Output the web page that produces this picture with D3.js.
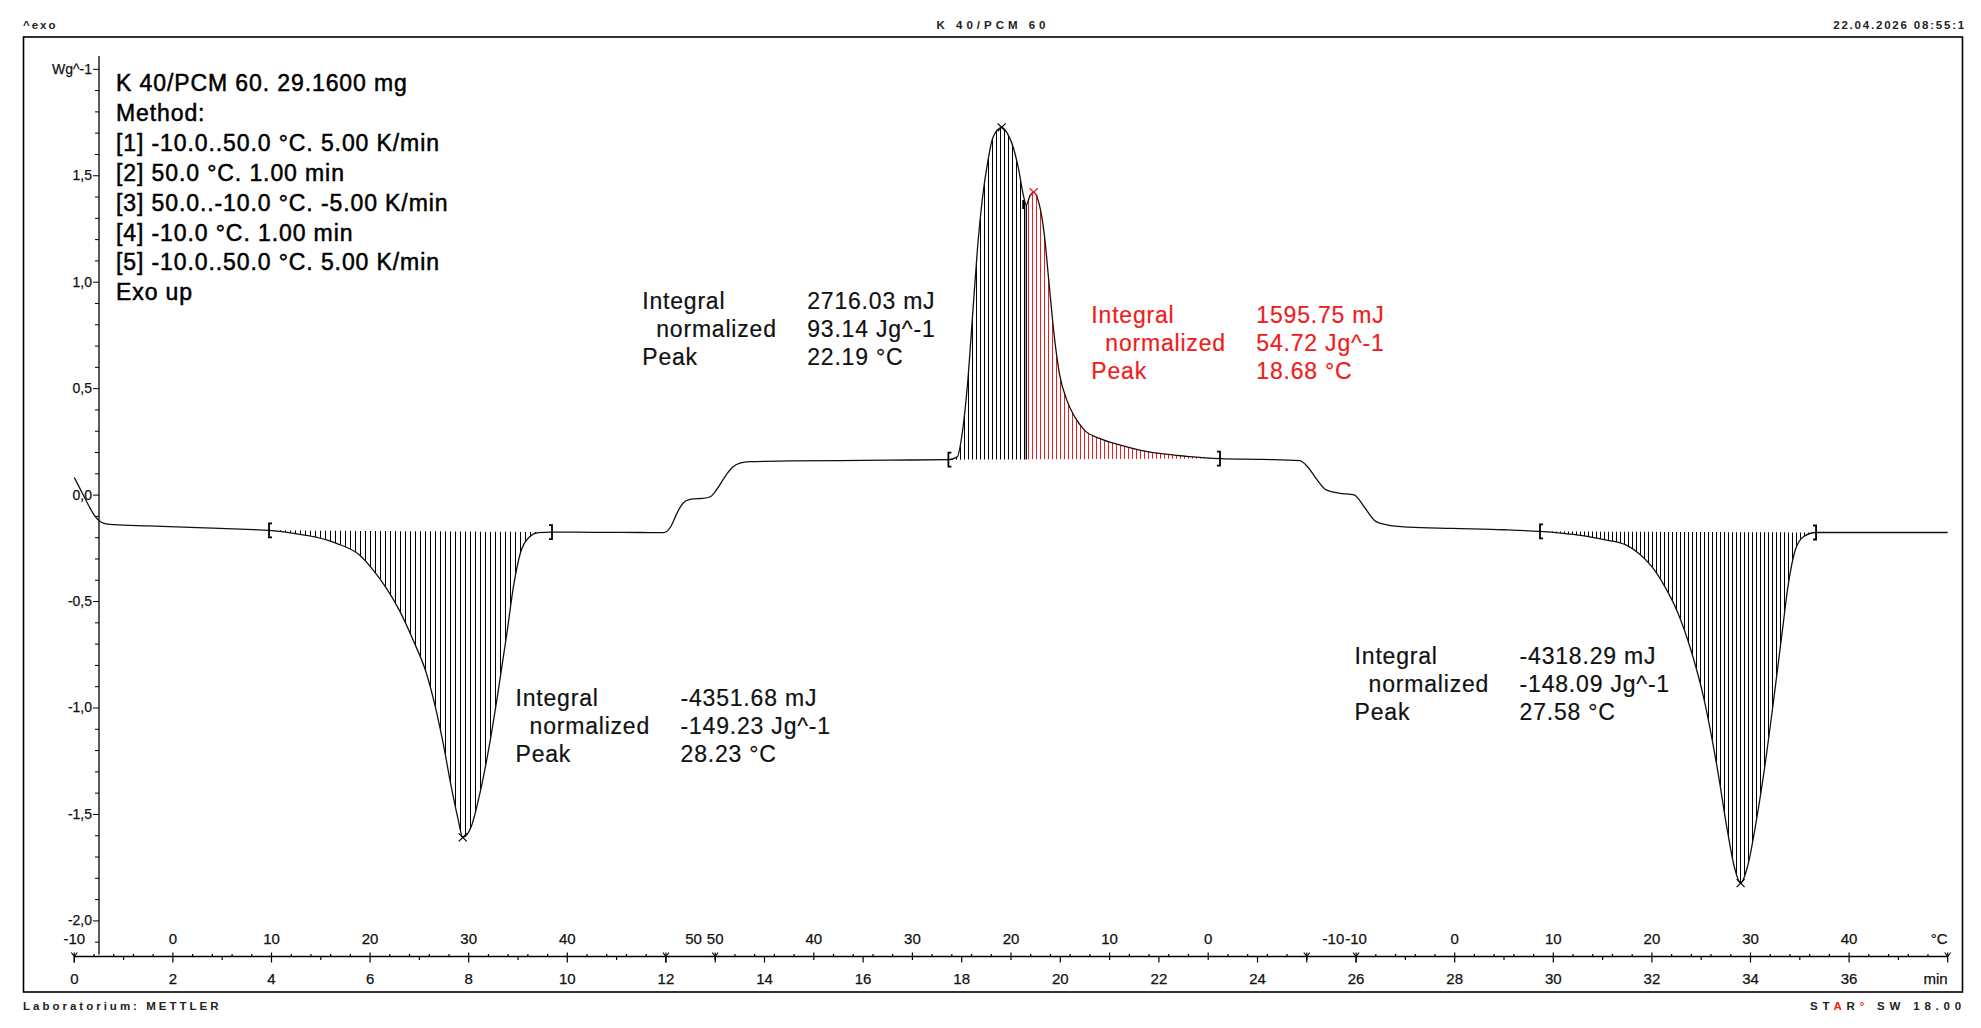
<!DOCTYPE html>
<html>
<head>
<meta charset="utf-8">
<script src="https://cdn.jsdelivr.net/npm/d3@7"></script>
<style>
  body { margin: 0; background: #fff; }
  text { font-family: "Liberation Sans", Arial, sans-serif; }
</style>
</head>
<body>
<div id="chart"></div>
<script>
// DSC curve: time in min, heat flow in W/g
var timeMin = [
  0.0, 0.1, 0.2, 0.3, 0.4, 0.5, 0.6, 0.8, 1.5, 2.5, 3.5, 3.95,
  4.42, 4.88, 5.33, 5.78, 6.05, 6.33, 6.6, 6.87, 7.14, 7.32, 7.5, 7.64, 7.78, 7.88,
  8.05, 8.23, 8.41, 8.59, 8.78, 8.91, 9.05, 9.23, 9.41, 9.69,
  10.5, 11.5, 11.95, 12.1, 12.2, 12.3, 12.4, 12.55, 12.75, 12.9, 13.05, 13.2, 13.35,
  13.5, 13.7, 14.5, 15.5, 16.5, 17.73,
  17.91, 18.01, 18.12, 18.22, 18.32, 18.42, 18.53, 18.63, 18.81, 18.94, 19.05, 19.15,
  19.25, 19.31, 19.39, 19.46, 19.56, 19.67, 19.77, 19.87, 19.98, 20.13, 20.29, 20.49,
  20.81, 21.22, 21.63, 22.05, 22.56, 23.24,
  24.1, 24.86, 25.04, 25.21, 25.39, 25.65, 25.96, 26.18, 26.4, 26.62, 27.06, 27.95,
  29.0, 29.73,
  30.15, 30.59, 31.03, 31.47, 31.73, 32.0, 32.26, 32.53, 32.79, 33.06, 33.32, 33.54,
  33.67, 33.8, 33.94, 34.11, 34.29, 34.47, 34.64, 34.77, 34.91, 35.08, 35.33,
  36.3, 37.2, 38.0
];
var heatFlow = [
  0.08, 0.035, -0.01, -0.055, -0.095, -0.122, -0.135, -0.141, -0.147, -0.155, -0.163, -0.168,
  -0.181, -0.199, -0.23, -0.283, -0.351, -0.439, -0.546, -0.682, -0.838, -0.994, -1.19, -1.365, -1.52, -1.61,
  -1.56, -1.40, -1.19, -0.936, -0.643, -0.429, -0.273, -0.199, -0.179, -0.176,
  -0.177, -0.178, -0.179, -0.15, -0.10, -0.055, -0.03, -0.02, -0.018, -0.01, 0.03, 0.085, 0.128,
  0.148, 0.155, 0.158, 0.16, 0.162, 0.164,
  0.177, 0.287, 0.524, 0.839, 1.155, 1.391, 1.565, 1.675, 1.725, 1.691, 1.628, 1.533,
  1.407, 1.36, 1.407, 1.42, 1.375, 1.233, 0.997, 0.76, 0.571, 0.445, 0.366, 0.303,
  0.263, 0.232, 0.208, 0.192, 0.18, 0.169,
  0.165, 0.16, 0.124, 0.069, 0.022, 0.007, -0.001, -0.063, -0.126, -0.142, -0.153, -0.159,
  -0.165, -0.173,
  -0.181, -0.193, -0.212, -0.236, -0.275, -0.338, -0.431, -0.557, -0.729, -0.964, -1.277, -1.59,
  -1.747, -1.825, -1.747, -1.543, -1.277, -0.964, -0.651, -0.416, -0.259, -0.197, -0.178,
  -0.178, -0.178, -0.178
];

// temperature program segments
var segStart = [0, 12, 13, 25, 26];
var segEnd = [12, 13, 25, 26, 38];
var segTempStart = [-10, 50, 50, -10, -10];
var segTempEnd = [50, 50, -10, -10, 50];

// integrations: hatched range and the baseline it is drawn against
var areaFrom = [3.95, 17.73, 19.31, 29.73];
var areaTo = [9.69, 19.31, 23.24, 35.33];
var baseFrom = [3.95, 17.73, 17.73, 29.73];
var baseTo = [9.69, 23.24, 23.24, 35.33];
var peakTimes = [7.88, 18.81, 19.46, 33.8];

// evaluation results
var resIntegral = ['-4351.68 mJ', '2716.03 mJ', '1595.75 mJ', '-4318.29 mJ'];
var resNormalized = ['-149.23 Jg^-1', '93.14 Jg^-1', '54.72 Jg^-1', '-148.09 Jg^-1'];
var resPeak = ['28.23 °C', '22.19 °C', '18.68 °C', '27.58 °C'];

var methodLines = [
  'K 40/PCM 60. 29.1600 mg',
  'Method:',
  '[1] -10.0..50.0 °C. 5.00 K/min',
  '[2] 50.0 °C. 1.00 min',
  '[3] 50.0..-10.0 °C. -5.00 K/min',
  '[4] -10.0 °C. 1.00 min',
  '[5] -10.0..50.0 °C. 5.00 K/min',
  'Exo up'
];

var yMajor = [-2, -1.5, -1, -0.5, 0, 0.5, 1, 1.5, 2];
var timeLabels = d3.range(0, 37, 2);

// ---------------------------------------------------------------
var width = 1981;
var height = 1028;
var red = '#f01c1c';
var ink = '#111';

var svg = d3.select('#chart')
  .append('svg')
  .attr('width', width)
  .attr('height', height)
  .style('display', 'block');

var x = d3.scaleLinear().domain([0, 38]).range([74.3, 1947.7]);
var y = d3.scaleLinear().domain([-2, 2]).range([920.4, 68.8]);
var axisY = 956.5;
var yAxisX = 99;

// frame
svg.append('rect')
  .attr('x', 23.5).attr('y', 37)
  .attr('width', 1939).attr('height', 955)
  .attr('fill', 'none').attr('stroke', '#000').attr('stroke-width', 1.6);

// header / footer
function small(txt, px, py, anchor, spacing) {
  return svg.append('text')
    .attr('x', px).attr('y', py)
    .attr('text-anchor', anchor)
    .style('font-size', '11.5px').style('font-weight', 'bold')
    .style('letter-spacing', spacing + 'px')
    .attr('fill', '#222')
    .text(txt);
}
small('^exo', 23, 29, 'start', 2);
small('K 40/PCM 60', 993, 29, 'middle', 4);
small('22.04.2026 08:55:1', 1966, 29, 'end', 1.8);
small('Laboratorium: METTLER', 23, 1010, 'start', 3);
var star = small('', 1966, 1010, 'end', 4.8);
star.append('tspan').text('ST');
star.append('tspan').attr('fill', red).text('A');
star.append('tspan').text('R');
star.append('tspan').attr('fill', red).text('°');
star.append('tspan').text(' SW 18.00');

// y axis
var fmt = d3.format('.1f');
var yAx = svg.append('g')
  .attr('transform', 'translate(' + yAxisX + ',0)')
  .call(d3.axisLeft(y).tickValues(yMajor).tickSize(6).tickPadding(1)
    .tickFormat(function(d) {
      return d === 2 ? 'Wg^-1' : fmt(d).replace('.', ',').replace('\u2212', '-');
    }));
yAx.select('.domain').remove();
yAx.selectAll('text').style('font-size', '14px').attr('fill', '#111')
  .attr('stroke', '#111').attr('stroke-width', 0.25)
  .style('font-family', '"Liberation Sans", Arial, sans-serif');
yAx.selectAll('line').attr('stroke', '#000');

var yMinor = d3.range(-21, 21).map(function(d) { return d / 10; })
  .filter(function(d) { return Math.round(d * 10) % 5 !== 0; });
var yMin = svg.append('g')
  .attr('transform', 'translate(' + yAxisX + ',0)')
  .call(d3.axisLeft(y).tickValues(yMinor).tickSize(4).tickFormat(''));
yMin.select('.domain').remove();
yMin.selectAll('line').attr('stroke', '#000');

svg.append('line')
  .attr('x1', yAxisX).attr('x2', yAxisX)
  .attr('y1', y(2.06)).attr('y2', y(-2.16))
  .attr('stroke', '#000').attr('stroke-width', 1.3);

// x axis (time below, temperature above)
svg.append('line')
  .attr('x1', x(0)).attr('x2', x(38))
  .attr('y1', axisY).attr('y2', axisY)
  .attr('stroke', '#000').attr('stroke-width', 1.3);

var xg = svg.append('g');
function vtick(t, y1, y2) {
  xg.append('line')
    .attr('x1', x(t)).attr('x2', x(t))
    .attr('y1', y1).attr('y2', y2)
    .attr('stroke', '#000').attr('stroke-width', 1.2);
}
timeLabels.forEach(function(t) { vtick(t, axisY, axisY + 6); });
d3.range(1, 38, 2).forEach(function(t) { vtick(t, axisY, axisY + 3.5); });

function axisText(sel) {
  sel.style('font-size', '15px')
    .attr('fill', '#111')
    .attr('stroke', '#111')
    .attr('stroke-width', 0.25);
}

xg.selectAll('.tl')
  .data(timeLabels)
  .enter().append('text')
  .attr('x', function(d) { return x(d); })
  .attr('y', 983.5)
  .attr('text-anchor', 'middle')
  .call(axisText)
  .text(function(d) { return d; });
xg.append('text').attr('x', x(38)).attr('y', 983.5).attr('text-anchor', 'end')
  .call(axisText).text('min');

// temperature ticks from the program segments
var tempTicks = [];
segStart.forEach(function(s, i) {
  var T0 = segTempStart[i], T1 = segTempEnd[i];
  if (T0 === T1) return;
  var dir = T1 > T0 ? 1 : -1;
  for (var T = T0; dir * (T1 - T) >= 0; T += 2 * dir) {
    var t = s + (T - T0) / (T1 - T0) * (segEnd[i] - s);
    var major = T % 10 === 0;
    tempTicks.push({ t: t, T: T, major: major, segEndTick: t === segEnd[i] && i < segStart.length - 1 });
  }
});
tempTicks.forEach(function(d) { vtick(d.t, axisY - (d.major ? 4 : 2.5), axisY); });

var tempLabels = tempTicks.filter(function(d) { return d.major && d.t < 38; });
var tLab = xg.selectAll('.tt')
  .data(tempLabels)
  .enter().append('text')
  .attr('x', function(d) { return x(d.t); })
  .attr('y', 943.5)
  .attr('text-anchor', 'middle')
  .call(axisText)
  .text(function(d) { return d.T; });
// end-of-ramp labels sit right against the label of the next ramp
tLab.each(function(d, i) {
  if (!d.segEndTick) return;
  var next = tLab.nodes()[i + 1];
  var w = next.getComputedTextLength();
  var gap = d.T < 0 ? 1 : 5;
  d3.select(this).attr('text-anchor', 'end')
    .attr('x', +d3.select(next).attr('x') - w / 2 - gap);
});
xg.append('text').attr('x', x(38)).attr('y', 943.5).attr('text-anchor', 'end')
  .call(axisText).text('°C');

// segment boundary marks
segStart.concat([38]).forEach(function(t) {
  xg.append('path')
    .attr('d', 'M' + (x(t) - 3) + ',' + (axisY - 4) + 'L' + x(t) + ',' + axisY + 'L' + (x(t) + 3) + ',' + (axisY - 4))
    .attr('fill', 'none').attr('stroke', '#000').attr('stroke-width', 1.1);
  vtick(t, axisY, axisY + 6);
});

// hatch patterns
var defs = svg.append('defs');
function hatch(id, color, step) {
  var p = defs.append('pattern').attr('id', id)
    .attr('patternUnits', 'userSpaceOnUse')
    .attr('width', step).attr('height', 8);
  p.append('line').attr('x1', 0.5).attr('x2', 0.5).attr('y1', 0).attr('y2', 8)
    .attr('stroke', color).attr('stroke-width', 1)
    .attr('shape-rendering', 'crispEdges');
}
hatch('hEndo1', '#000', 5);
hatch('hBlack', '#000', 4);
hatch('hRed', red, 4);
hatch('hEndo2', '#000', 4);
var areaFill = ['url(#hEndo1)', 'url(#hBlack)', 'url(#hRed)', 'url(#hEndo2)'];

var points = timeMin.map(function(t, i) { return [t, heatFlow[i]]; });
function valueAt(t) {
  var i = timeMin.findIndex(function(d) { return Math.abs(d - t) < 1e-6; });
  return heatFlow[i];
}

areaFrom.forEach(function(a, k) {
  var b0 = valueAt(baseFrom[k]), b1 = valueAt(baseTo[k]);
  var base = d3.scaleLinear().domain([baseFrom[k], baseTo[k]]).range([b0, b1]);
  var pts = points.filter(function(p) { return p[0] >= a - 1e-6 && p[0] <= areaTo[k] + 1e-6; });
  var area = d3.area()
    .x(function(p) { return x(p[0]); })
    .y0(function(p) { return y(base(p[0])); })
    .y1(function(p) { return y(p[1]); })
    .curve(d3.curveMonotoneX);
  svg.append('path').attr('d', area(pts)).attr('fill', areaFill[k]).attr('stroke', 'none');
});

// split line between the two exotherm parts
var exoBase = d3.scaleLinear().domain([baseFrom[1], baseTo[1]]).range([valueAt(baseFrom[1]), valueAt(baseTo[1])]);
svg.append('line')
  .attr('x1', x(areaTo[1])).attr('x2', x(areaTo[1]))
  .attr('y1', y(valueAt(areaTo[1]))).attr('y2', y(exoBase(areaTo[1])))
  .attr('stroke', '#000').attr('stroke-width', 1.3);

// the curve
var line = d3.line()
  .x(function(p) { return x(p[0]); })
  .y(function(p) { return y(p[1]); })
  .curve(d3.curveMonotoneX);
svg.append('path')
  .attr('d', line(points))
  .attr('fill', 'none')
  .attr('stroke', ink)
  .attr('stroke-width', 1.3);

// integration limit brackets
function bracket(t, dir, color) {
  var px = x(t), py = y(valueAt(t));
  svg.append('path')
    .attr('d', 'M' + (px + 3 * dir) + ',' + (py - 7) + 'H' + px + 'V' + (py + 7) + 'H' + (px + 3 * dir))
    .attr('fill', 'none').attr('stroke', color).attr('stroke-width', 1.8);
}
[0, 1, 3].forEach(function(k) {
  bracket(baseFrom[k], 1, '#000');
  bracket(baseTo[k], -1, '#000');
});

// peak markers
peakTimes.forEach(function(t, k) {
  var px = x(t), py = y(valueAt(t));
  svg.append('path')
    .attr('d', 'M' + (px - 4) + ',' + (py - 4) + 'L' + (px + 4) + ',' + (py + 4) +
               'M' + (px + 4) + ',' + (py - 4) + 'L' + (px - 4) + ',' + (py + 4))
    .attr('stroke', k === 2 ? red : '#000').attr('stroke-width', 1.2);
});
// mark at the split point
svg.append('path')
  .attr('d', 'M' + (x(areaTo[1]) - 3) + ',' + (y(valueAt(areaTo[1])) - 5) + 'V' + (y(valueAt(areaTo[1])) + 4))
  .attr('stroke', '#000').attr('stroke-width', 2);

// method text block
svg.append('g').selectAll('text')
  .data(methodLines)
  .enter().append('text')
  .attr('x', 116)
  .attr('y', function(d, i) { return 91 + i * 29.9; })
  .style('font-size', '23px')
  .style('letter-spacing', '0.9px')
  .attr('fill', '#000')
  .attr('stroke', '#000')
  .attr('stroke-width', 0.5)
  .text(function(d) { return d; });

// result blocks, anchored in data coordinates
var resAnchor = [[8.95, -0.992], [11.52, 0.870], [20.63, 0.805], [25.97, -0.798]];
resAnchor.forEach(function(a, k) {
  var g = svg.append('g')
    .attr('transform', 'translate(' + x(a[0]) + ',' + y(a[1]) + ')')
    .attr('fill', k === 2 ? red : '#111')
    .attr('stroke', k === 2 ? red : '#111')
    .attr('stroke-width', 0.2)
    .style('font-size', '23px')
    .style('letter-spacing', '0.8px');
  var rows = [['Integral', resIntegral[k], 0], ['normalized', resNormalized[k], 14], ['Peak', resPeak[k], 0]];
  rows.forEach(function(r, i) {
    g.append('text').attr('x', r[2]).attr('y', i * 28).text(r[0]);
    g.append('text').attr('x', 165).attr('y', i * 28).text(r[1]);
  });
});
</script>
</body>
</html>
